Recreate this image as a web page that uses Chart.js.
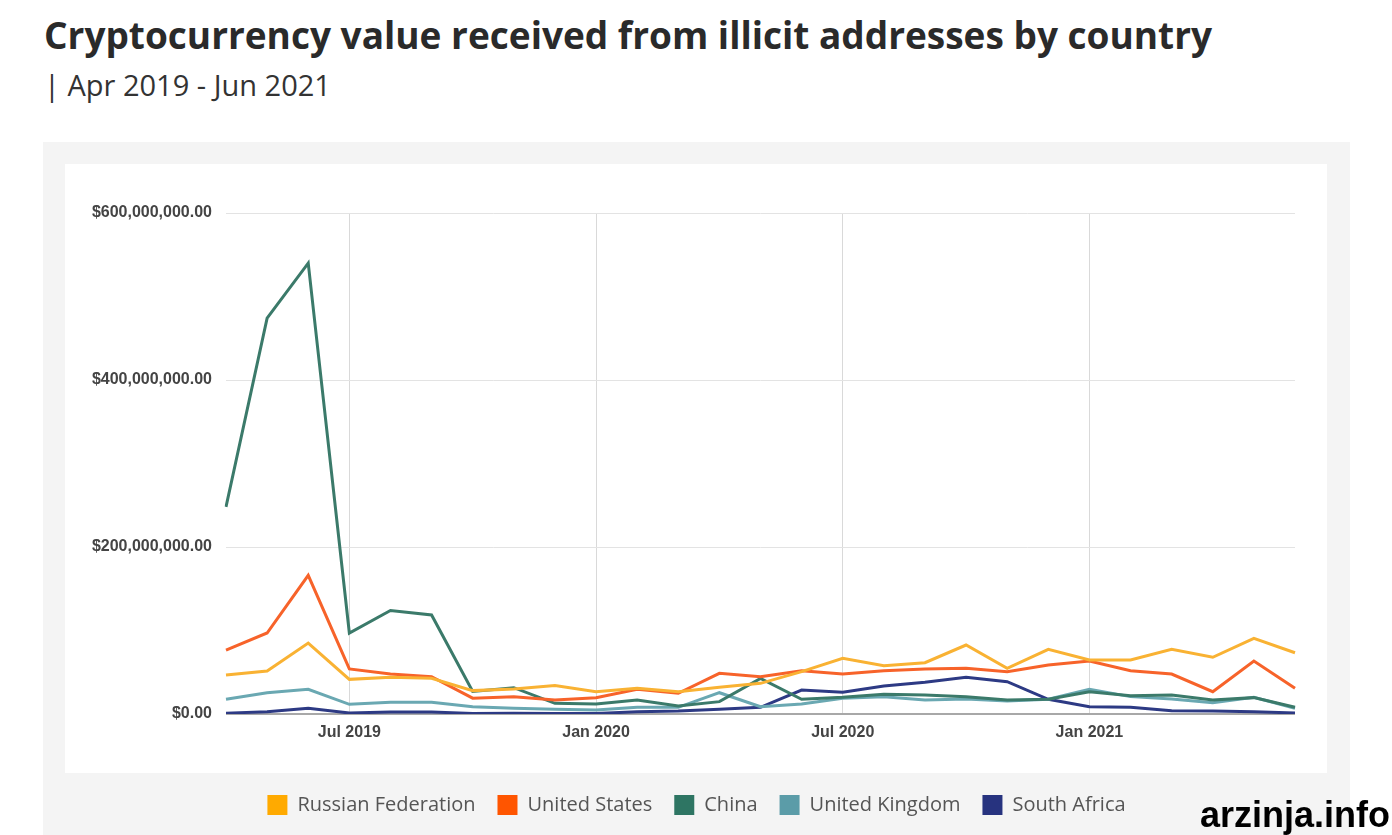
<!DOCTYPE html>
<html>
<head>
<meta charset="utf-8">
<title>Cryptocurrency value received from illicit addresses by country</title>
<script src="https://cdn.jsdelivr.net/npm/chart.js@4.4.1/dist/chart.umd.min.js"></script>
<style>
    html, body { margin: 0; padding: 0; background: #fff; }
    body { width: 1392px; height: 835px; position: relative; overflow: hidden; }
    .title {
        position: absolute; left: 44px; top: 16px; margin: 0;
        font-family: "Open Sans", Lato, sans-serif; font-weight: 700; font-size: 37px;
        line-height: 1; color: #2a2a2a; white-space: nowrap;
    }
    .subtitle {
        position: absolute; left: 44px; top: 70px;
        font-family: "Open Sans", Lato, sans-serif; font-size: 29px;
        line-height: 1; color: #333; white-space: nowrap;
    }
    .panel { position: absolute; left: 43px; top: 142px; width: 1307px; height: 693px; background: #f4f4f4; }
    .inner { position: absolute; left: 65px; top: 164px; width: 1262px; height: 609px; background: #fff; }
    #chart { position: absolute; left: 43px; top: 142px; }
    .mark {
        position: absolute; right: 2px; top: 795px;
        font-family: "Liberation Sans", Arial, sans-serif; font-weight: 700; font-size: 36px;
        line-height: 40px; color: #000;
    }
</style>
</head>
<body>
<h1 class="title">Cryptocurrency value received from illicit addresses by country</h1>
<div class="subtitle">| Apr 2019 - Jun 2021</div>
<div class="panel"></div>
<div class="inner"></div>
<canvas id="chart" width="1307" height="693"></canvas>
<div class="mark">arzinja.info</div>

<script>
// monthly values, in millions of USD
const months = [
    'Apr 2019', 'May 2019', 'Jun 2019', 'Jul 2019', 'Aug 2019', 'Sep 2019', 'Oct 2019', 'Nov 2019', 'Dec 2019',
    'Jan 2020', 'Feb 2020', 'Mar 2020', 'Apr 2020', 'May 2020', 'Jun 2020', 'Jul 2020', 'Aug 2020', 'Sep 2020',
    'Oct 2020', 'Nov 2020', 'Dec 2020', 'Jan 2021', 'Feb 2021', 'Mar 2021', 'Apr 2021', 'May 2021', 'Jun 2021'
];

const russia = [46.7, 51.5, 85, 41.5, 44, 42.7, 28, 30, 34, 26.7, 30.7, 26.7, 32, 36.7, 50.7, 66.7, 57.9, 61.5,
    82.6, 54.7, 77.5, 64.7, 64.7, 77.5, 67.9, 90.7, 73.4];
const unitedStates = [76.6, 97, 166, 54, 48, 44.7, 19, 20.8, 16.8, 19.6, 29.5, 24.8, 48.7, 44.7, 51.9, 47.9, 51.9, 53.9,
    54.7, 50.7, 58.7, 63.5, 51.9, 47.9, 26.7, 63.5, 30.7];
const china = [248, 474, 540, 97, 124, 118.6, 27, 31.5, 12.8, 12, 16.8, 9.6, 14.8, 42.7, 17.6, 20, 23.6, 22.8,
    20.8, 16.8, 17.6, 26.7, 21.9, 22.8, 16.8, 19.6, 8];
const unitedKingdom = [17.6, 25.5, 29.5, 11.6, 14, 14, 8.8, 6.8, 5.6, 4.8, 8, 8, 25.5, 8.8, 12, 18.8, 20.8, 16.8,
    18, 15.6, 17.6, 29.5, 20.8, 18, 13.6, 20, 6.8];
const southAfrica = [1, 2.8, 6.8, 1.2, 2.5, 2.5, 0.5, 0.8, 0.5, 0.5, 2.8, 3.5, 5.6, 8, 28.7, 26, 33.5, 38,
    44, 38.7, 17.6, 8.8, 8, 4, 3.6, 2.8, 1.2];

const yTicks = [0, 200, 400, 600];

const seriesNames = ['Russian Federation', 'United States', 'China', 'United Kingdom', 'South Africa'];
const seriesData = [russia, unitedStates, china, unitedKingdom, southAfrica];
const lineColors = ['#f9b233', '#f7632a', '#3b7a6a', '#6aa8b2', '#2d3a84'];
const swatchColors = ['#ffaa00', '#ff5500', '#2e7563', '#5b9ca8', '#27337f'];

function isMarked(label) {
    return label.startsWith('Jul') || label.startsWith('Jan');
}

const axisFont = { family: '"Liberation Sans", Arial, sans-serif', size: 16, weight: 'bold' };

new Chart(document.getElementById('chart'), {
    type: 'line',
    data: {
        labels: months,
        datasets: seriesNames.map((name, i) => ({
            label: name,
            data: seriesData[i],
            borderColor: lineColors[i],
            backgroundColor: swatchColors[i],
            borderWidth: 3,
            pointRadius: 0,
            tension: 0,
            fill: false
        }))
    },
    options: {
        responsive: false,
        animation: false,
        layout: {
            // symmetric so the legend stays centred on the panel
            padding: { left: 20, right: 20, top: 71, bottom: 10 }
        },
        scales: {
            x: {
                border: { display: false },
                grid: {
                    drawTicks: false,
                    color: ctx => (ctx.tick && isMarked(months[ctx.index])) ? '#d9d9d9' : 'rgba(0,0,0,0)'
                },
                ticks: {
                    autoSkip: false,
                    maxRotation: 0,
                    padding: 9,
                    color: '#444',
                    font: axisFont,
                    callback: function (value, index) {
                        return isMarked(months[index]) ? months[index] : '';
                    }
                },
                afterFit: scale => { scale.height = 59; }
            },
            y: {
                min: 0,
                max: 600,
                border: { display: false },
                afterBuildTicks: scale => { scale.ticks = yTicks.map(v => ({ value: v })); },
                grid: {
                    drawTicks: false,
                    color: ctx => ctx.tick && ctx.tick.value === 0 ? '#a8a8a8' : '#e3e3e3',
                    lineWidth: ctx => ctx.tick && ctx.tick.value === 0 ? 2 : 1
                },
                ticks: {
                    padding: 14,
                    color: '#444',
                    font: axisFont,
                    callback: v => '$' + (v * 1000000).toLocaleString('en-US', { minimumFractionDigits: 2, maximumFractionDigits: 2 })
                },
                afterFit: scale => { scale.width = 163; }
            },
            // empty spacer on the right side of the plot
            yRight: {
                position: 'right',
                border: { display: false },
                grid: { display: false },
                ticks: { display: false },
                afterFit: scale => { scale.width = 35; }
            }
        },
        plugins: {
            legend: {
                position: 'bottom',
                labels: {
                    boxWidth: 20,
                    boxHeight: 20,
                    padding: 22,
                    color: '#555',
                    font: { family: '"Open Sans", Lato, sans-serif', size: 20 },
                    generateLabels: chart => Chart.defaults.plugins.legend.labels.generateLabels(chart).map(item => {
                        item.lineWidth = 0;
                        item.strokeStyle = item.fillStyle;
                        return item;
                    })
                }
            },
            tooltip: { enabled: false }
        }
    }
});
</script>
</body>
</html>
